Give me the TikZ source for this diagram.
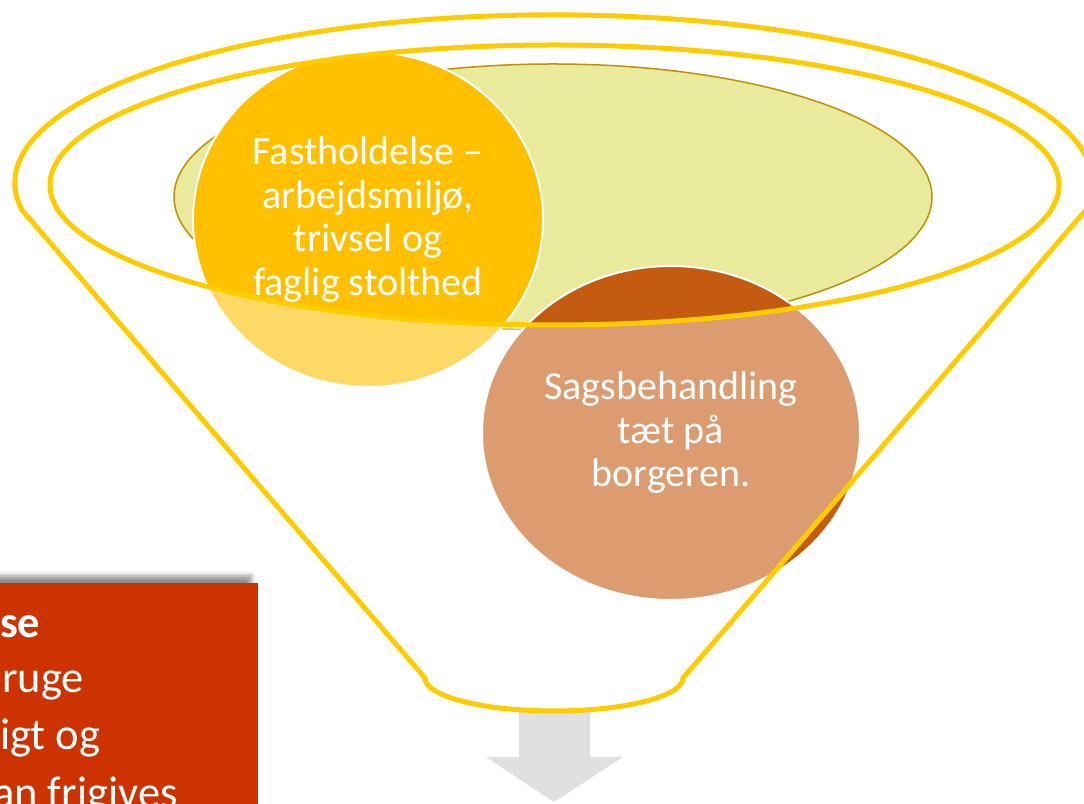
\documentclass[tikz,border=0pt]{standalone}
\usepackage{fontspec}
\setmainfont{Carlito}
\usetikzlibrary{shapes.geometric,shadows.blur}
\definecolor{funnelgold}{RGB}{255,204,0}
\definecolor{mouthgreen}{RGB}{234,234,156}
\definecolor{mouthedge}{RGB}{191,144,0}
\definecolor{fastgold}{RGB}{255,192,0}
\definecolor{sagorange}{RGB}{197,90,17}
\definecolor{arrowgray}{RGB}{224,224,224}
\definecolor{boxred}{RGB}{204,51,0}
\tikzset{
  bubble/.style={ellipse, draw=white, line width=2pt, text=white, align=center,
    inner sep=0pt, font=\fontsize{40}{43.5}\selectfont},
  rim/.style={draw=funnelgold, line width=5pt, line join=round},
  boxtext/.style={anchor=base west, text=white, inner sep=0pt,
    font=\fontsize{44.5}{57}\selectfont},
}
\begin{document}
\begin{tikzpicture}[x=1pt,y=1pt]
\useasboundingbox (0,0) rectangle (1084,803);
% mouth of the funnel
\draw[fill=mouthgreen, draw=mouthedge, line width=1.5pt] (553,606) ellipse [x radius=379, y radius=133];
\node[bubble, fill=fastgold, minimum width=350pt, minimum height=335pt] (fast) at (368,583.5) {Fastholdelse --\\arbejdsmiljø,\\trivsel og\\faglig stolthed};
\node[bubble, fill=sagorange, minimum width=378pt, minimum height=334pt] (sag) at (671,370) {Sagsbehandling\\tæt på\\borgeren.};
% arrow out of the funnel
\fill[arrowgray] (519,94) -- (590,94) -- (590,46) -- (623,46) -- (554,1) -- (486,46) -- (519,46) -- cycle;
% funnel body
\fill[white, fill opacity=0.4, even odd rule] (22,593) arc[start angle=189.3, end angle=-9.3, x radius=539, y radius=168] -- (683,125) arc[start angle=0, end angle=-180, x radius=129, y radius=33] -- cycle (554.5,618) ellipse [x radius=504.5, y radius=140];
\draw[rim] (22,593) arc[start angle=189.3, end angle=-9.3, x radius=539, y radius=168] -- (683,125) arc[start angle=0, end angle=-180, x radius=129, y radius=33] -- cycle;
\draw[rim] (554.5,618) ellipse [x radius=504.5, y radius=140];
% box
\fill[boxred, blur shadow={shadow xshift=-7pt, shadow yshift=7pt, shadow blur radius=5pt, shadow opacity=45}] (-20,-20) rectangle (258,220);
\node[boxtext, font=\fontsize{44.5}{57}\selectfont\bfseries] (l1) at (0,165) {se};
\node[boxtext] (l2) at (2,110) {ruge};
\node[boxtext] (l3) at (0,53) {igt og};
\node[boxtext] (l4) at (-7,-4) {an frigives};
\end{tikzpicture}
\end{document}
